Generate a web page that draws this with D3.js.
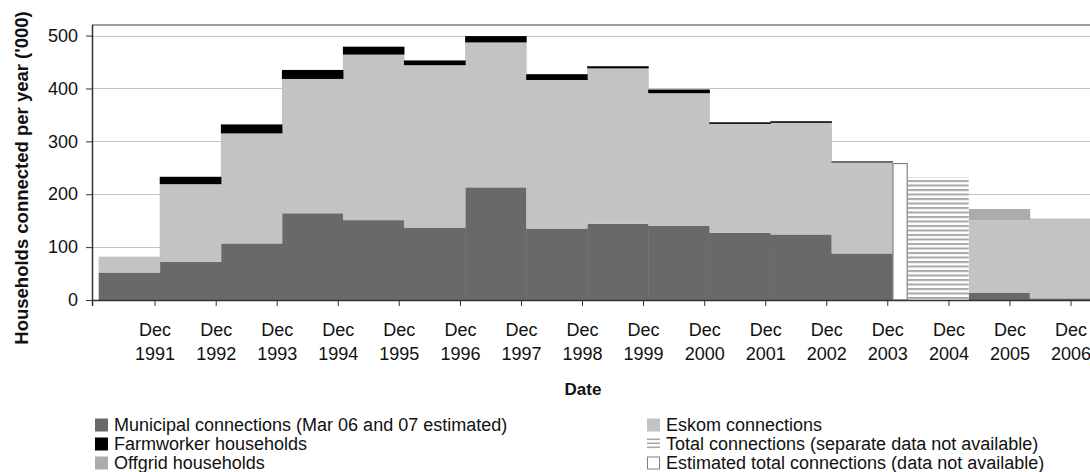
<!DOCTYPE html>
<html lang="en">
<head>
  <meta charset="UTF-8">
  <title>Households connected per year</title>
  <style>
    body { margin: 0; background: #fff; }
    svg text { font-family: "Liberation Sans", Arial, sans-serif; fill: #111; }
    .axis path, .axis line { stroke: #333; }
  </style>
</head>
<body>
  <div id="chart"></div>

<script src="https://d3js.org/d3.v7.min.js"></script>
<script>
  // Periods with separate data (calendar years, then financial years from Apr 2005)
  var periodLabels = ['1991', '1992', '1993', '1994', '1995', '1996', '1997', '1998', '1999',
    '2000', '2001', '2002', '2003', '2005/06', '2006/07'];
  var periodStart = ['1991-01-01', '1992-01-01', '1993-01-01', '1994-01-01', '1995-01-01',
    '1996-01-01', '1997-01-01', '1998-01-01', '1999-01-01', '2000-01-01', '2001-01-01',
    '2002-01-01', '2003-01-01', '2005-04-01', '2006-04-01'];
  var periodEnd = ['1992-01-01', '1993-01-01', '1994-01-01', '1995-01-01', '1996-01-01',
    '1997-01-01', '1998-01-01', '1999-01-01', '2000-01-01', '2001-01-01', '2002-01-01',
    '2003-01-01', '2004-01-01', '2006-04-01', '2007-04-01'];

  // '000 households
  var municipal = [52, 72, 107, 164, 151, 137, 213, 135, 144, 140, 127, 124, 88, 14, 3];
  var eskom = [30, 147, 208, 254, 313, 307, 274, 281, 294, 251, 206, 211, 172, 137, 151];
  var farmworker = [0, 14, 17, 17, 15, 9, 12, 11, 4, 7, 3, 3, 2, 0, 0];
  var offgrid = [0, 0, 0, 0, 0, 0, 0, 0, 0, 0, 0, 0, 0, 21, 0];

  // Total connections only (separate data not available)
  var totalStart = ['2004-04-01'];
  var totalEnd = ['2005-04-01'];
  var totalValues = [232];

  // Estimated total (data not available), Jan-Mar 2004
  var estStart = ['2004-01-01'];
  var estEnd = ['2004-04-01'];
  var estValues = [258];

  var tickYears = d3.range(1991, 2007);
  var yTicks = [0, 100, 200, 300, 400, 500];

  var legendLeft = [
    { label: 'Municipal connections (Mar 06 and 07 estimated)', type: 'municipal' },
    { label: 'Farmworker households', type: 'farmworker' },
    { label: 'Offgrid households', type: 'offgrid' }
  ];
  var legendRight = [
    { label: 'Eskom connections', type: 'eskom' },
    { label: 'Total connections (separate data not available)', type: 'total' },
    { label: 'Estimated total connections (data not available)', type: 'estimated' }
  ];

  var colors = {
    municipal: '#696969',
    eskom: '#c3c3c3',
    farmworker: '#000000',
    offgrid: '#acacac'
  };

  var W = 1090, H = 472;
  var plotLeft = 92, plotTop = 25, plotBottom = 300, plotRight = 1092;

  var parse = d3.timeParse('%Y-%m-%d');

  var svg = d3.select('#chart')
    .append('svg')
    .attr('width', W)
    .attr('height', H);

  var defs = svg.append('defs');
  var pat = defs.append('pattern')
    .attr('id', 'hlines')
    .attr('patternUnits', 'userSpaceOnUse')
    .attr('width', 8)
    .attr('height', 4.5);
  pat.append('rect').attr('width', 8).attr('height', 4.5).attr('fill', '#fff');
  pat.append('rect').attr('width', 8).attr('height', 2).attr('fill', '#a8a8a8');

  var x = d3.scaleTime()
    .domain([new Date(1990, 11, 1), new Date(2006, 11, 1)])
    .range([93.5, 1070.5]);

  var y = d3.scaleLinear()
    .domain([0, 520])
    .range([plotBottom, plotTop]);

  // gridlines
  svg.append('g')
    .selectAll('line')
    .data(yTicks.filter(function(d) { return d > 0; }))
    .enter()
    .append('line')
    .attr('x1', plotLeft)
    .attr('x2', plotRight)
    .attr('y1', function(d) { return Math.round(y(d)) + 0.5; })
    .attr('y2', function(d) { return Math.round(y(d)) + 0.5; })
    .attr('stroke', '#c4c4c4')
    .attr('stroke-width', 1.2);

  // top border of plot area
  svg.append('line')
    .attr('x1', plotLeft).attr('x2', plotRight)
    .attr('y1', plotTop).attr('y2', plotTop)
    .attr('stroke', '#7f7f7f')
    .attr('stroke-width', 1.5);

  // stacked data
  var rows = periodLabels.map(function(p, i) {
    return {
      period: p,
      start: parse(periodStart[i]),
      end: parse(periodEnd[i]),
      municipal: municipal[i],
      eskom: eskom[i],
      farmworker: farmworker[i],
      offgrid: offgrid[i]
    };
  });

  var stack = d3.stack().keys(['municipal', 'eskom', 'farmworker', 'offgrid']);
  var layers = stack(rows);

  svg.append('g')
    .selectAll('g')
    .data(layers)
    .enter()
    .append('g')
    .attr('fill', function(d) { return colors[d.key]; })
    .selectAll('rect')
    .data(function(d) { return d.filter(function(s) { return s[1] > s[0]; }); })
    .enter()
    .append('rect')
    .attr('x', function(d) { return x(d.data.start); })
    .attr('width', function(d) { return x(d.data.end) - x(d.data.start) + 0.5; })
    .attr('y', function(d) { return y(d[1]); })
    .attr('height', function(d) { return y(d[0]) - y(d[1]); });

  // total only (hatched)
  svg.append('g')
    .selectAll('rect')
    .data(totalValues)
    .enter()
    .append('rect')
    .attr('x', function(d, i) { return x(parse(totalStart[i])); })
    .attr('width', function(d, i) { return x(parse(totalEnd[i])) - x(parse(totalStart[i])); })
    .attr('y', function(d) { return y(d); })
    .attr('height', function(d) { return y(0) - y(d); })
    .attr('fill', 'url(#hlines)');

  // estimated total (white box)
  svg.append('g')
    .selectAll('rect')
    .data(estValues)
    .enter()
    .append('rect')
    .attr('x', function(d, i) { return x(parse(estStart[i])) + 0.5; })
    .attr('width', function(d, i) { return x(parse(estEnd[i])) - x(parse(estStart[i])) - 1; })
    .attr('y', function(d) { return y(d); })
    .attr('height', function(d) { return y(0) - y(d); })
    .attr('fill', '#fff')
    .attr('stroke', '#808080')
    .attr('stroke-width', 1.2);

  // x axis
  var xAxis = d3.axisBottom(x)
    .tickValues(tickYears.map(function(yr) { return new Date(yr, 11, 1); }))
    .tickSize(6)
    .tickSizeOuter(0)
    .tickFormat('');

  var gx = svg.append('g')
    .attr('class', 'axis')
    .attr('transform', 'translate(0,' + plotBottom + ')')
    .call(xAxis);
  gx.select('.domain').attr('d', 'M' + plotLeft + ',0.5H' + plotRight).attr('stroke-width', 1.5);

  var xl = gx.selectAll('.tick')
    .append('text')
    .attr('text-anchor', 'middle')
    .style('font-size', '18px');
  xl.append('tspan').attr('x', 0).attr('y', 36).text('Dec');
  xl.append('tspan').attr('x', 0).attr('y', 60).text(function(d) { return d.getFullYear(); });

  // y axis
  var yAxis = d3.axisLeft(y)
    .tickValues(yTicks)
    .tickSize(6)
    .tickSizeOuter(0)
    .tickPadding(8);

  var gy = svg.append('g')
    .attr('class', 'axis')
    .attr('transform', 'translate(' + plotLeft + ',0)')
    .call(yAxis);
  gy.select('.domain').attr('d', 'M0.5,' + plotTop + 'V' + (plotBottom + 6)).attr('stroke-width', 1.5);
  gy.selectAll('.tick text').style('font-size', '18px').attr('fill', '#111');

  // axis titles
  svg.append('text')
    .attr('transform', 'translate(28,178) rotate(-90)')
    .attr('text-anchor', 'middle')
    .style('font-size', '18.5px')
    .style('font-weight', 'bold')
    .text("Households connected per year ('000)");

  svg.append('text')
    .attr('x', 583)
    .attr('y', 395)
    .attr('text-anchor', 'middle')
    .style('font-size', '17px')
    .style('font-weight', 'bold')
    .text('Date');

  // legend
  function drawLegend(items, lx, tx) {
    var g = svg.append('g');
    items.forEach(function(item, i) {
      var base = 431 + i * 19;
      var top = base - 12.5;
      if (item.type === 'total') {
        [0, 4, 8].forEach(function(o) {
          g.append('rect').attr('x', lx).attr('y', top + 1 + o).attr('width', 13).attr('height', 1.6).attr('fill', '#a8a8a8');
        });
      } else if (item.type === 'estimated') {
        g.append('rect').attr('x', lx + 0.5).attr('y', top + 0.5).attr('width', 12).attr('height', 12)
          .attr('fill', '#fff').attr('stroke', '#808080').attr('stroke-width', 1);
      } else {
        g.append('rect').attr('x', lx).attr('y', top).attr('width', 13).attr('height', 13)
          .attr('fill', colors[item.type]);
      }
      g.append('text')
        .attr('x', tx)
        .attr('y', base)
        .style('font-size', '18px')
        .text(item.label);
    });
  }

  drawLegend(legendLeft, 95, 114);
  drawLegend(legendRight, 647, 666);
</script>
</body>
</html>
